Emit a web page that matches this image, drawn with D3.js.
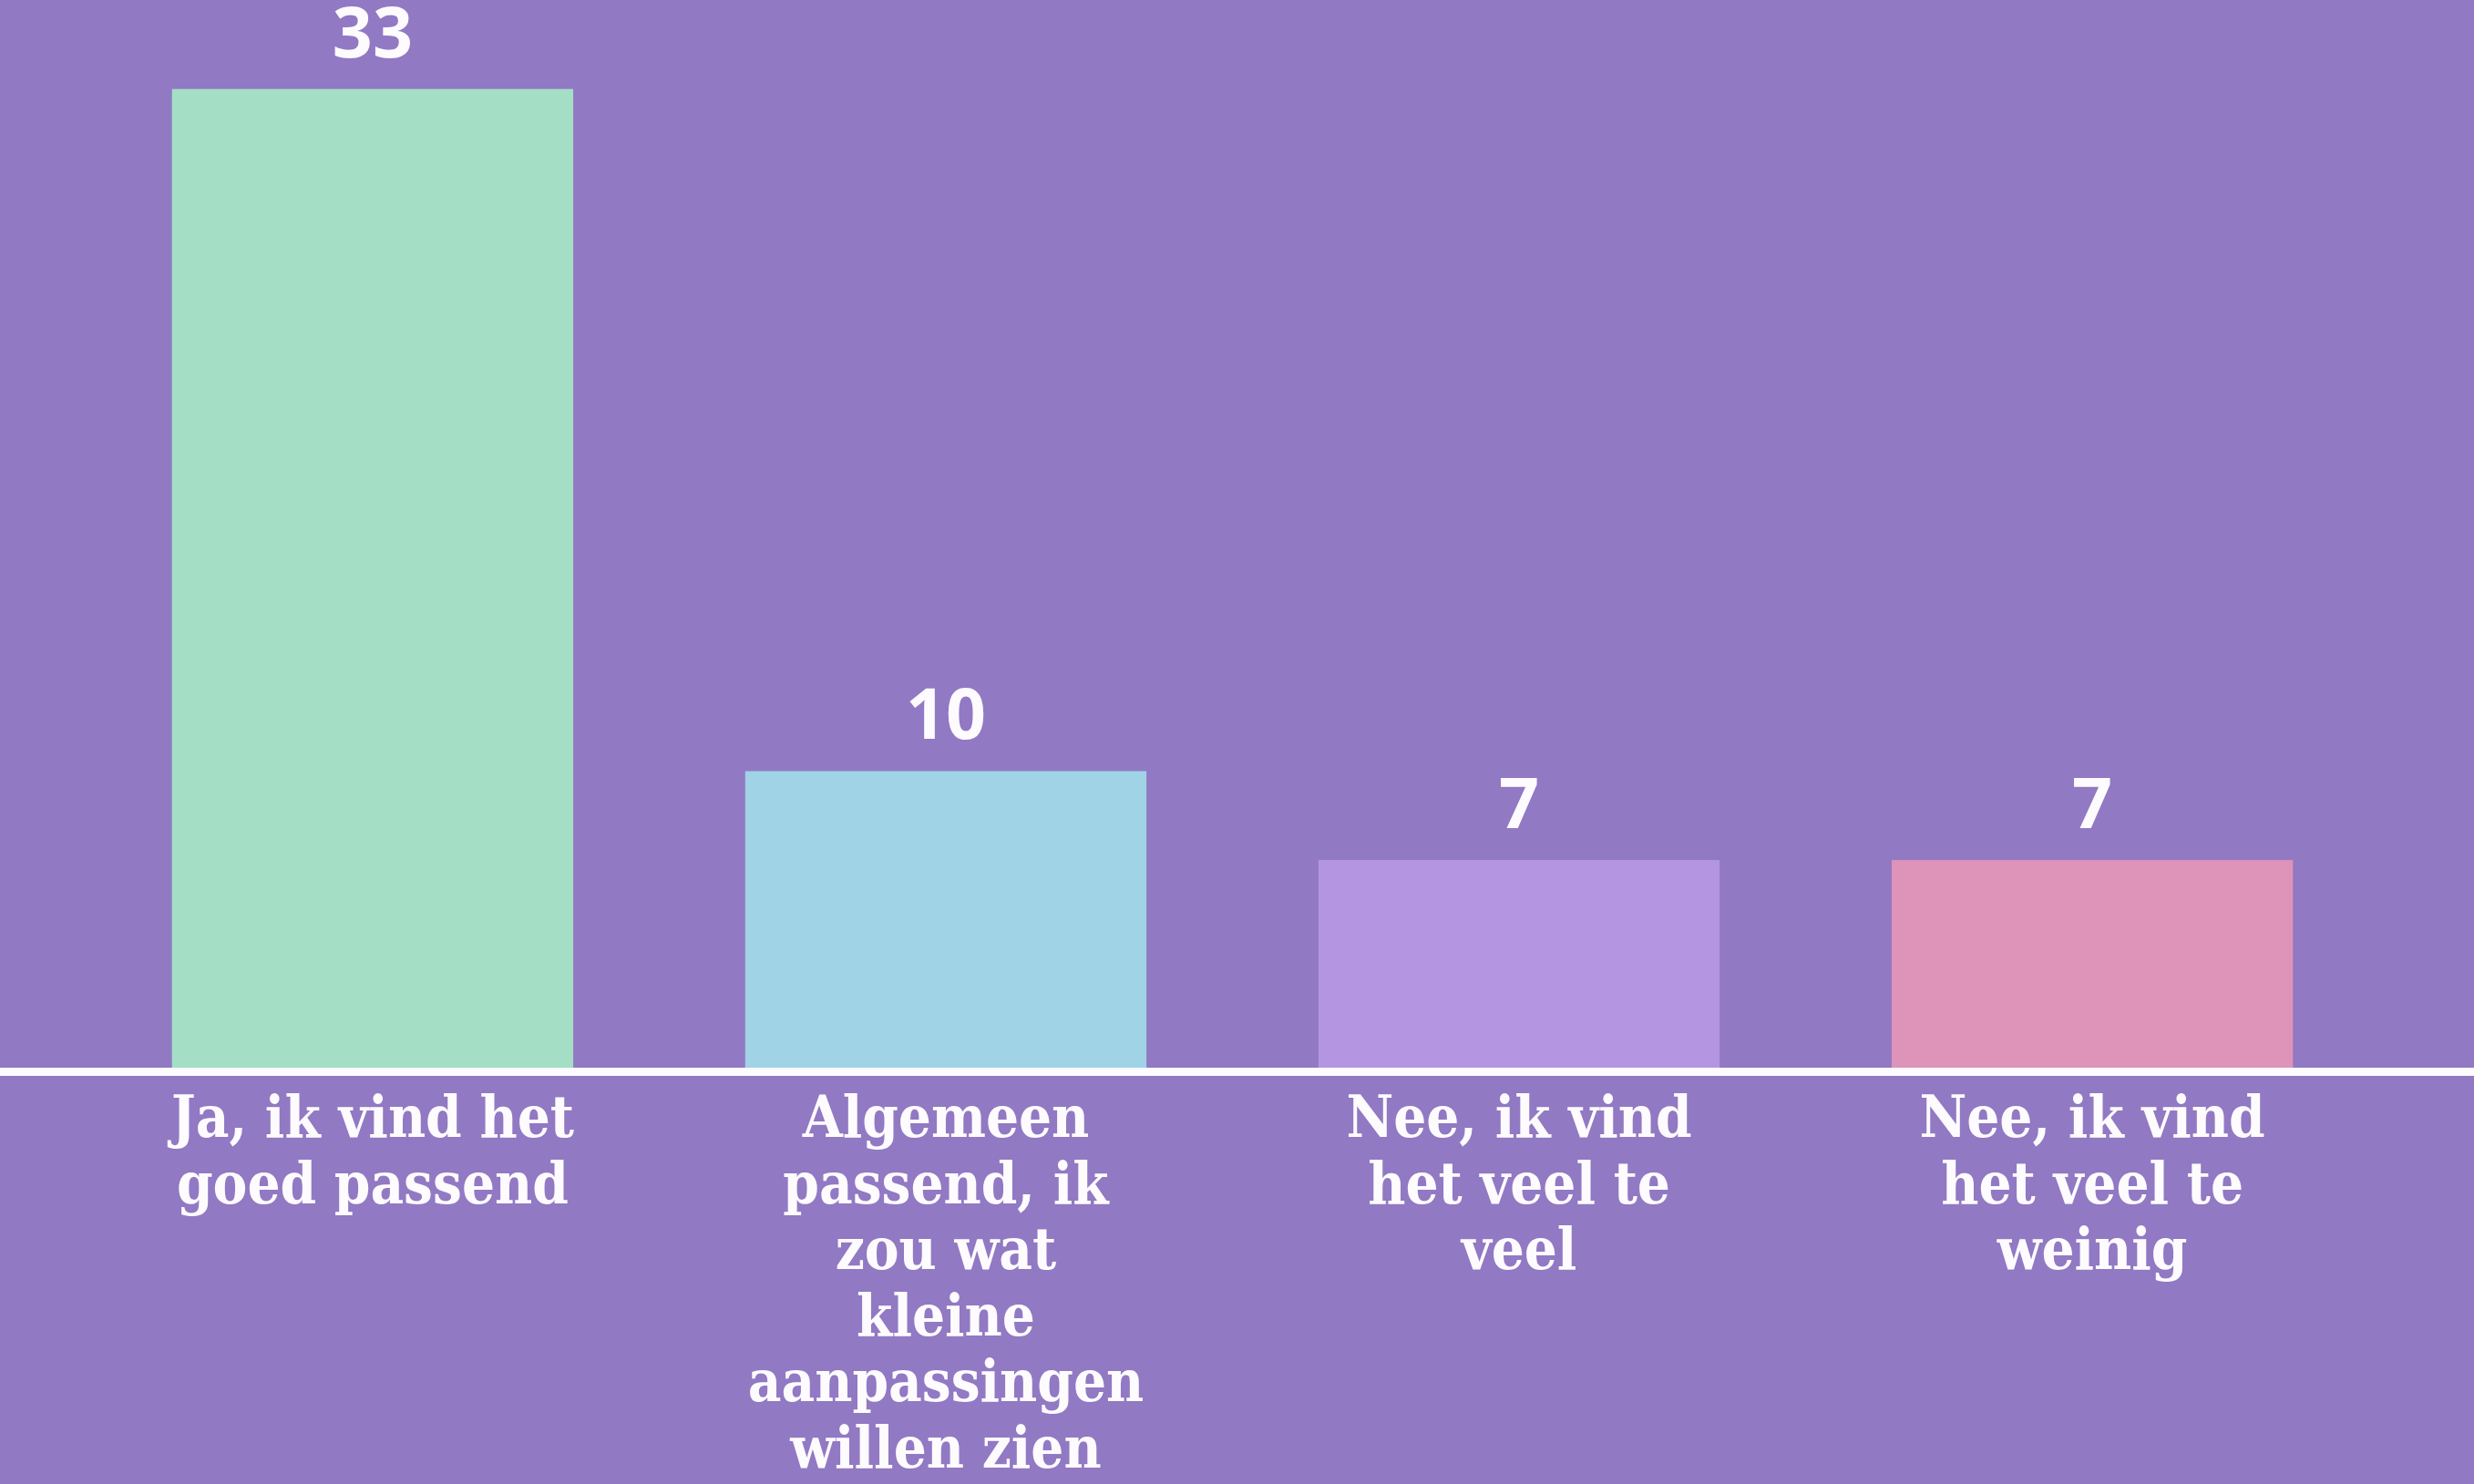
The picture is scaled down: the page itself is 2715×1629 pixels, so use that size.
<!DOCTYPE html>
<html>
<head>
<meta charset="utf-8">
<script src="https://cdn.jsdelivr.net/npm/d3@7"></script>
<style>
  html, body { margin: 0; padding: 0; background: #9179c3; }
  svg { display: block; }
</style>
</head>
<body>
<svg id="chart"></svg>
<script>
const categories = [
    'Ja, ik vind het goed passend',
    'Algemeen passend, ik zou wat kleine aanpassingen willen zien',
    'Nee, ik vind het veel te veel',
    'Nee, ik vind het veel te weinig'
];
// line breaks as in the picture
const labelLines = [
    ['Ja, ik vind het', 'goed passend'],
    ['Algemeen', 'passend, ik', 'zou wat', 'kleine', 'aanpassingen', 'willen zien'],
    ['Nee, ik vind', 'het veel te', 'veel'],
    ['Nee, ik vind', 'het veel te', 'weinig']
];
const values = [33, 10, 7, 7];
const barColors = ['#a4dec5', '#a0d3e6', '#b495e2', '#de94b9'];

const width = 2715, height = 1629;
const baseY = 1172;

const svg = d3.select('#chart')
    .attr('width', width)
    .attr('height', height);

svg.append('rect')
    .attr('width', width)
    .attr('height', height)
    .attr('fill', '#9179c3');

const x = d3.scaleBand()
    .domain(categories)
    .range([0, 2705])
    .paddingInner(0.3)
    .paddingOuter(0.3);

const y = d3.scaleLinear()
    .domain([0, 36])
    .range([baseY, 0]);

svg.selectAll('rect.bar')
    .data(values).enter()
    .append('rect')
        .attr('class', 'bar')
        .attr('x', (d, i) => x(categories[i]))
        .attr('y', d => y(d))
        .attr('width', x.bandwidth())
        .attr('height', d => y(0) - y(d))
        .attr('fill', (d, i) => barColors[i]);

// baseline
svg.append('line')
    .attr('x1', 0)
    .attr('x2', width)
    .attr('y1', baseY + 4.5)
    .attr('y2', baseY + 4.5)
    .attr('stroke', '#fdfbfe')
    .attr('stroke-width', 9);

// value labels
svg.selectAll('text.value')
    .data(values).enter()
    .append('text')
        .attr('class', 'value')
        .attr('x', (d, i) => x(categories[i]) + x.bandwidth() / 2)
        .attr('y', d => y(d) - 35)
        .attr('text-anchor', 'middle')
        .attr('fill', '#fdfbfe')
        .style('font-family', '"Open Sans", sans-serif')
        .style('font-weight', 700)
        .style('font-size', '77px')
        .text(d => d);

// category labels
const cat = svg.selectAll('text.cat')
    .data(labelLines).enter()
    .append('text')
        .attr('class', 'cat')
        .attr('text-anchor', 'middle')
        .attr('fill', '#fdfbfe')
        .style('font-family', '"DejaVu Serif", serif')
        .style('font-stretch', 'condensed')
        .style('font-weight', 'bold')
        .style('font-size', '63px');

cat.each(function(lines, i) {
    const cx = x(categories[i]) + x.bandwidth() / 2;
    d3.select(this).selectAll('tspan')
        .data(lines).enter()
        .append('tspan')
            .attr('x', cx)
            .attr('y', (d, j) => 1248 + j * 72.5)
            .text(d => d);
});
</script>
</body>
</html>
